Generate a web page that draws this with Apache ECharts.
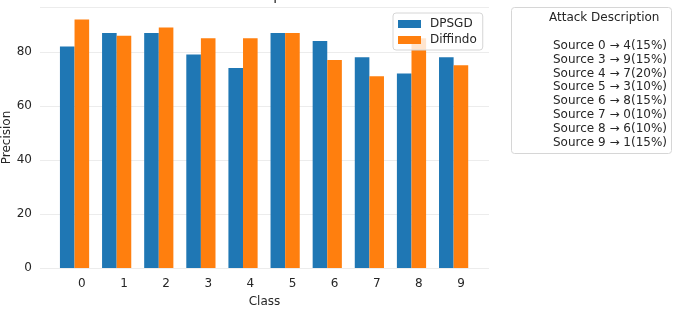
<!DOCTYPE html>
<html>
<head>
<meta charset="utf-8">
<script src="https://cdn.jsdelivr.net/npm/echarts@6/dist/echarts.min.js"></script>
<style>
  html, body { margin: 0; padding: 0; background: #fff; }
  #chart { width: 675px; height: 314px; }
</style>
</head>
<body>
<div id="chart"></div>
<script>
// values
const classes = ['0', '1', '2', '3', '4', '5', '6', '7', '8', '9'];
const dpsgd = [82, 87, 87, 79, 74, 87, 84, 78, 72, 78];
const diffindo = [92, 86, 89, 85, 85, 87, 77, 71, 85, 75];
const yTicks = [0, 20, 40, 60, 80];
const attackTitle = 'Attack Description';
const attackLines = [
  'Source 0 → 4(15%)',
  'Source 3 → 9(15%)',
  'Source 4 → 7(20%)',
  'Source 5 → 3(10%)',
  'Source 6 → 8(15%)',
  'Source 7 → 0(10%)',
  'Source 8 → 6(10%)',
  'Source 9 → 1(15%)'
];

const font = 'DejaVu Sans';
const textColor = '#262626';

let chart = echarts.init(document.getElementById('chart'), null, { renderer: 'canvas' });

let option = {
  animation: false,
  textStyle: { fontFamily: font },
  title: {
    text: 'Precision per Class',
    left: 267,
    textAlign: 'center',
    top: -16,
    textStyle: { fontFamily: font, fontSize: 14, fontWeight: 'normal', color: textColor }
  },
  grid: { left: 40, right: 186, top: 7, bottom: 46, containLabel: false, outerBoundsMode: 'none' },
  legend: {
    orient: 'vertical',
    left: 393,
    top: 13,
    data: ['DPSGD', 'Diffindo'],
    icon: 'rect',
    itemWidth: 23,
    itemHeight: 8,
    itemGap: 4,
    padding: [5, 6, 4, 5],
    backgroundColor: 'rgba(255,255,255,0.8)',
    borderColor: '#d6d6d6',
    borderWidth: 1,
    borderRadius: 3,
    textStyle: { fontFamily: font, fontSize: 12, color: textColor, padding: [0, 0, 0, 4] }
  },
  xAxis: {
    type: 'value',
    min: -0.82,
    max: 9.84,
    name: 'Class',
    nameLocation: 'middle',
    nameGap: 28,
    nameMoveOverlap: false,
    nameTextStyle: { fontFamily: font, fontSize: 12, color: textColor },
    axisLine: { show: false },
    axisTick: { show: false },
    splitLine: { show: false },
    axisLabel: {
      customValues: classes.map((c, i) => i + 0.175),
      formatter: v => classes[Math.round(v - 0.175)],
      margin: 10,
      fontFamily: font,
      fontSize: 12,
      color: textColor
    }
  },
  yAxis: {
    type: 'value',
    min: 0,
    max: 96.6,
    interval: 20,
    name: 'Precision',
    nameLocation: 'middle',
    nameGap: 27,
    nameMoveOverlap: false,
    nameTextStyle: { fontFamily: font, fontSize: 12, color: textColor },
    axisLine: { show: false },
    axisTick: { show: false },
    splitLine: { show: true, lineStyle: { color: '#ececec', width: 1 } },
    axisLabel: {
      customValues: yTicks,
      margin: 8,
      fontFamily: font,
      fontSize: 12,
      color: textColor
    }
  },
  series: [
    {
      name: 'DPSGD',
      type: 'bar',
      barWidth: 14.6,
      barGap: '0%',
      itemStyle: { color: '#1f77b4' },
      data: dpsgd.map((v, i) => [i, v])
    },
    {
      name: 'Diffindo',
      type: 'bar',
      barWidth: 14.6,
      barGap: '0%',
      itemStyle: { color: '#ff7f0e' },
      data: diffindo.map((v, i) => [i, v])
    }
  ],
  graphic: [
    {
      type: 'rect',
      left: 511,
      top: 7,
      shape: { width: 160, height: 146, r: 3 },
      style: { fill: '#fff', stroke: '#d6d6d6', lineWidth: 1 }
    },
    {
      type: 'text',
      left: 549,
      top: 12,
      style: { text: attackTitle, font: '12px "DejaVu Sans"', fill: textColor }
    },
    {
      type: 'text',
      right: 8,
      top: 39,
      style: {
        text: attackLines.join('\n'),
        font: '12px "DejaVu Sans"',
        fill: textColor,
        align: 'right',
        lineHeight: 13.8
      }
    }
  ]
};

chart.setOption(option);
</script>
</body>
</html>
